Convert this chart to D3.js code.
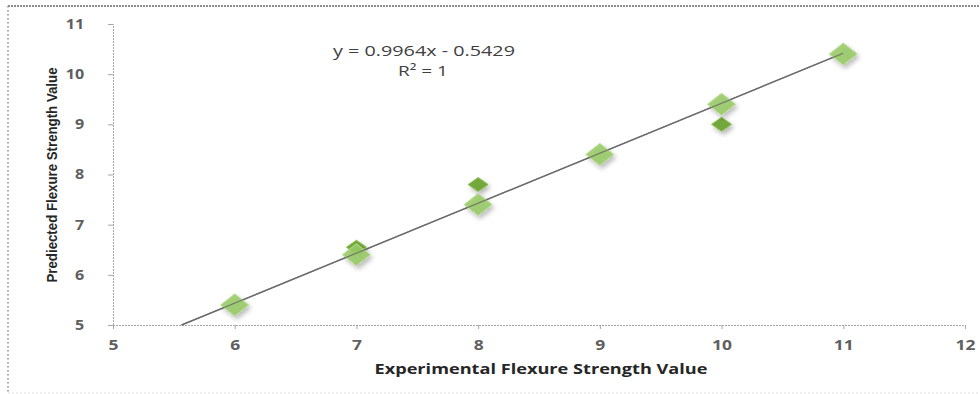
<!DOCTYPE html>
<html>
<head>
<meta charset="utf-8">
<script src="https://cdn.jsdelivr.net/npm/d3@7"></script>
<style>
  body { margin: 0; background: #fff; }
</style>
</head>
<body>
<div class="chart"></div>
<script>
// data
var expX = [6, 7, 8, 9, 10, 11];
var predY = [5.4, 6.4, 7.4, 8.4, 9.4, 10.4];
var extraX = [7, 8, 10];
var extraY = [6.55, 7.8, 9.0];
var xTicks = [5, 6, 7, 8, 9, 10, 11, 12];
var yTicks = [5, 6, 7, 8, 9, 10, 11];
var slope = 0.9964, intercept = -0.5429;

var svgWidth = 980, svgHeight = 394;
var margin = { top: 24, right: 12, bottom: 69, left: 113 };
var width = svgWidth - margin.left - margin.right;
var height = svgHeight - margin.top - margin.bottom;

var svg = d3.select(".chart").append("svg")
  .attr("width", svgWidth)
  .attr("height", svgHeight);

// outer frame
svg.append("line").attr("x1", 8).attr("x2", 980).attr("y1", 6).attr("y2", 6)
  .attr("stroke", "#8c8c8c").attr("stroke-width", 2).attr("stroke-dasharray", "2,1");
svg.append("line").attr("x1", 8).attr("x2", 8).attr("y1", 6).attr("y2", 394)
  .attr("stroke", "#8c8c8c").attr("stroke-width", 1.5).attr("stroke-dasharray", "1.5,2.5");
svg.append("line").attr("x1", 8).attr("x2", 980).attr("y1", 393).attr("y2", 393)
  .attr("stroke", "#e0e0e0").attr("stroke-width", 1).attr("stroke-dasharray", "2,2");

var chartGroup = svg.append("g")
  .attr("transform", `translate(${margin.left}, ${margin.top})`);

var x = d3.scaleLinear().domain([5, 12]).range([0, width - 3]);
var y = d3.scaleLinear().domain([5, 11]).range([height, 0]);

var xAxis = chartGroup.append("g")
  .attr("transform", `translate(0, ${height})`)
  .call(d3.axisBottom(x).tickValues(xTicks).tickSize(4).tickPadding(11).tickFormat(d3.format("d")));
var yAxis = chartGroup.append("g")
  .call(d3.axisLeft(y).tickValues(yTicks).tickSize(5).tickPadding(20).tickFormat(d3.format("d")));

// the picture is stretched sideways, so widen the labels a little
function styleAxis(a, sx) {
  a.attr("font-family", "Open Sans, sans-serif");
  a.select(".domain").attr("stroke", "#a6a6a6").attr("stroke-dasharray", "2,1");
  a.selectAll(".tick line").attr("stroke", "#a6a6a6");
  a.selectAll(".tick text")
    .attr("transform", `scale(${sx},1)`)
    .style("font-size", "14px")
    .style("font-weight", "bold")
    .style("fill", "#5f5f5f");
}
styleAxis(xAxis, 1.25);
styleAxis(yAxis, 1.15);

// trend line
var x0 = (5 - intercept) / slope;
chartGroup.append("line")
  .attr("x1", x(x0)).attr("y1", y(slope * x0 + intercept))
  .attr("x2", x(11)).attr("y2", y(slope * 11 + intercept))
  .attr("stroke", "#6b6b6b").attr("stroke-width", 1.4);

// shadow filter
var defs = svg.append("defs");
var f = defs.append("filter").attr("id", "sh").attr("x", "-50%").attr("y", "-50%").attr("width", "200%").attr("height", "200%");
f.append("feGaussianBlur").attr("in", "SourceAlpha").attr("stdDeviation", 2.5);
f.append("feOffset").attr("dx", 2).attr("dy", 3).attr("result", "b");
f.append("feComponentTransfer").append("feFuncA").attr("type", "linear").attr("slope", 0.3);
var fm = f.append("feMerge");
fm.append("feMergeNode");
fm.append("feMergeNode").attr("in", "SourceGraphic");

function diamond(w, h) {
  return `M0,${-h} L${w},0 L0,${h} L${-w},0 Z`;
}

// extra (darker) points
chartGroup.selectAll(".extra")
  .data(extraX.map((d, i) => [d, extraY[i]]))
  .enter().append("path")
  .attr("class", "extra")
  .attr("d", diamond(10, 7))
  .attr("transform", d => `translate(${x(d[0])}, ${y(d[1])})`)
  .attr("fill", "#72a83a")
  .attr("stroke", "#8cc152")
  .attr("filter", "url(#sh)");

// predicted points
chartGroup.selectAll(".pred")
  .data(expX.map((d, i) => [d, predY[i]]))
  .enter().append("path")
  .attr("class", "pred")
  .attr("d", diamond(14, 11))
  .attr("transform", d => `translate(${x(d[0])}, ${y(d[1])})`)
  .attr("fill", "#97cb66")
  .attr("fill-opacity", 0.88)
  .attr("stroke", "#b9dd94")
  .attr("filter", "url(#sh)");

// trend line again, on top of the markers
chartGroup.append("line")
  .attr("x1", x(x0)).attr("y1", y(slope * x0 + intercept))
  .attr("x2", x(11)).attr("y2", y(slope * 11 + intercept))
  .attr("stroke", "#6b6b6b").attr("stroke-width", 1.2).attr("opacity", 0.8);

// equation
svg.append("text").attr("x", 424).attr("y", 56).attr("text-anchor", "middle")
  .attr("font-family", "Open Sans, sans-serif").attr("font-size", 15).attr("fill", "#404040")
  .attr("textLength", 182).attr("lengthAdjust", "spacingAndGlyphs")
  .text("y = 0.9964x - 0.5429");
svg.append("text").attr("x", 423).attr("y", 76).attr("text-anchor", "middle")
  .attr("font-family", "Open Sans, sans-serif").attr("font-size", 15).attr("fill", "#404040")
  .attr("textLength", 50).attr("lengthAdjust", "spacingAndGlyphs")
  .text("R² = 1");

// axis titles
svg.append("text")
  .attr("transform", "translate(57, 175) rotate(-90)")
  .attr("text-anchor", "middle")
  .attr("font-family", "Liberation Sans Narrow, Arial Narrow, sans-serif")
  .attr("font-weight", "bold").attr("font-size", 14).attr("fill", "#262626")
  .attr("textLength", 215).attr("lengthAdjust", "spacingAndGlyphs")
  .text("Prediected Flexure Strength Value");

svg.append("text")
  .attr("x", 541).attr("y", 374)
  .attr("text-anchor", "middle")
  .attr("font-family", "Open Sans, sans-serif")
  .attr("font-weight", "bold").attr("font-size", 14).attr("fill", "#262626")
  .attr("textLength", 333).attr("lengthAdjust", "spacingAndGlyphs")
  .text("Experimental Flexure Strength Value");
</script>
</body>
</html>
